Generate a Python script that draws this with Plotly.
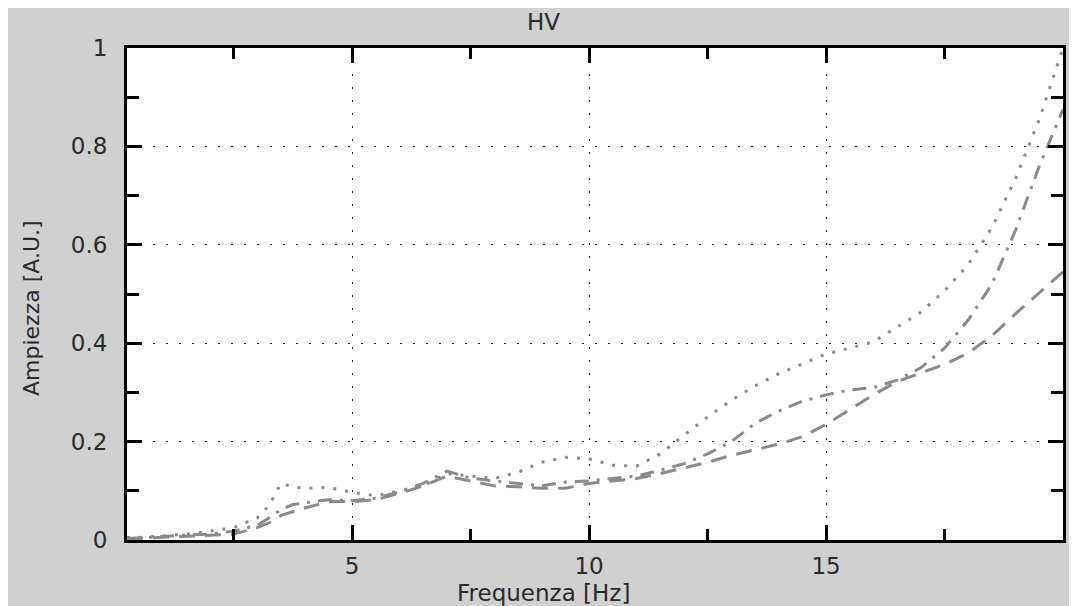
import plotly.graph_objects as go

freq = [0.25, 0.5, 1, 1.5, 2, 2.5, 3, 3.25, 3.5, 3.75, 4, 4.5, 5, 5.5, 6, 6.5, 7, 7.5, 8, 8.5,
        9, 9.5, 10, 10.5, 11, 11.5, 12, 12.5, 13, 13.5, 14, 14.5, 15, 15.5, 16, 16.5, 17, 17.5,
        18, 18.5, 19, 19.5, 20]

hv_dotted = [0.005, 0.005, 0.008, 0.012, 0.018, 0.025, 0.045, 0.07, 0.115, 0.108, 0.105, 0.107,
             0.097, 0.09, 0.1, 0.11, 0.135, 0.13, 0.125, 0.138, 0.158, 0.168, 0.165, 0.152, 0.15,
             0.175, 0.213, 0.25, 0.284, 0.313, 0.338, 0.358, 0.378, 0.39, 0.403, 0.433, 0.463,
             0.506, 0.56, 0.635, 0.735, 0.855, 1.0]

hv_dashdot = [0.003, 0.004, 0.007, 0.01, 0.012, 0.018, 0.03, 0.045, 0.062, 0.072, 0.075, 0.082,
              0.08, 0.085, 0.098, 0.115, 0.14, 0.126, 0.12, 0.115, 0.11, 0.118, 0.12, 0.125, 0.13,
              0.142, 0.155, 0.175, 0.2, 0.237, 0.262, 0.282, 0.295, 0.305, 0.31, 0.325, 0.35,
              0.39, 0.447, 0.52, 0.63, 0.76, 0.875]

hv_dashed = [0.002, 0.003, 0.005, 0.008, 0.01, 0.012, 0.025, 0.035, 0.05, 0.058, 0.065, 0.078,
             0.078, 0.082, 0.095, 0.11, 0.13, 0.12, 0.11, 0.108, 0.105, 0.105, 0.115, 0.12, 0.125,
             0.135, 0.147, 0.158, 0.172, 0.183, 0.195, 0.21, 0.235, 0.265, 0.295, 0.322, 0.34,
             0.357, 0.38, 0.415, 0.46, 0.503, 0.545]

x_ticks = [5, 10, 15]
x_minor = [2.5, 7.5, 12.5, 17.5]
y_ticks = [0, 0.2, 0.4, 0.6, 0.8, 1]
y_tick_text = ["0", "0.2", "0.4", "0.6", "0.8", "1"]
y_minor = [0.1, 0.3, 0.5, 0.7, 0.9]

LINE_COLOR = "#8a8a8a"
FONT = "DejaVu Sans"
TXT = "#2a2a2a"
FS = 23

fig = go.Figure()
fig.add_trace(go.Scatter(x=freq, y=hv_dotted, mode="lines",
                         line=dict(color=LINE_COLOR, width=3, dash="3px,9px")))
fig.add_trace(go.Scatter(x=freq, y=hv_dashdot, mode="lines",
                         line=dict(color=LINE_COLOR, width=3, dash="14px,8px,3px,8px")))
fig.add_trace(go.Scatter(x=freq, y=hv_dashed, mode="lines",
                         line=dict(color=LINE_COLOR, width=3, dash="16px,10px")))

axis_common = dict(
    showline=True, linecolor="black", linewidth=3, mirror="ticks",
    ticks="inside", tickcolor="black", tickwidth=3, ticklen=15,
    showgrid=True, gridcolor="#222222", gridwidth=1, griddash="2px,11px",
    zeroline=False,
    tickfont=dict(family=FONT, size=FS, color=TXT),
)

fig.update_xaxes(range=[0.25, 20], tickvals=x_ticks,
                 minor=dict(ticks="inside", ticklen=11, tickwidth=3, tickcolor="black",
                            tickvals=x_minor, showgrid=False),
                 ticklabelstandoff=3,
                 **axis_common)
fig.update_yaxes(range=[0, 1], tickvals=y_ticks, ticktext=y_tick_text,
                 minor=dict(ticks="inside", ticklen=12, tickwidth=3, tickcolor="black",
                            tickvals=y_minor, showgrid=False),
                 ticklabelstandoff=12,
                 **axis_common)

fig.add_annotation(text="HV", xref="paper", yref="paper", x=0.4455, y=1.053,
                   showarrow=False, xanchor="center", yanchor="middle",
                   font=dict(family=FONT, size=FS, color=TXT))
fig.add_annotation(text="Frequenza [Hz]", xref="paper", yref="paper", x=0.4455, y=-0.108,
                   showarrow=False, xanchor="center", yanchor="middle",
                   font=dict(family=FONT, size=FS, color=TXT))
fig.add_annotation(text="Ampiezza [A.U.]", xref="paper", yref="paper", x=-0.1026, y=0.4715,
                   showarrow=False, textangle=-90, xanchor="center", yanchor="middle",
                   font=dict(family=FONT, size=FS - 1, color=TXT))

fig.update_layout(
    width=1069, height=598,
    margin=dict(l=119, r=14, t=40, b=66),
    paper_bgcolor="#d0d0d0", plot_bgcolor="white",
    showlegend=False,
)

fig.write_html("out.html")
